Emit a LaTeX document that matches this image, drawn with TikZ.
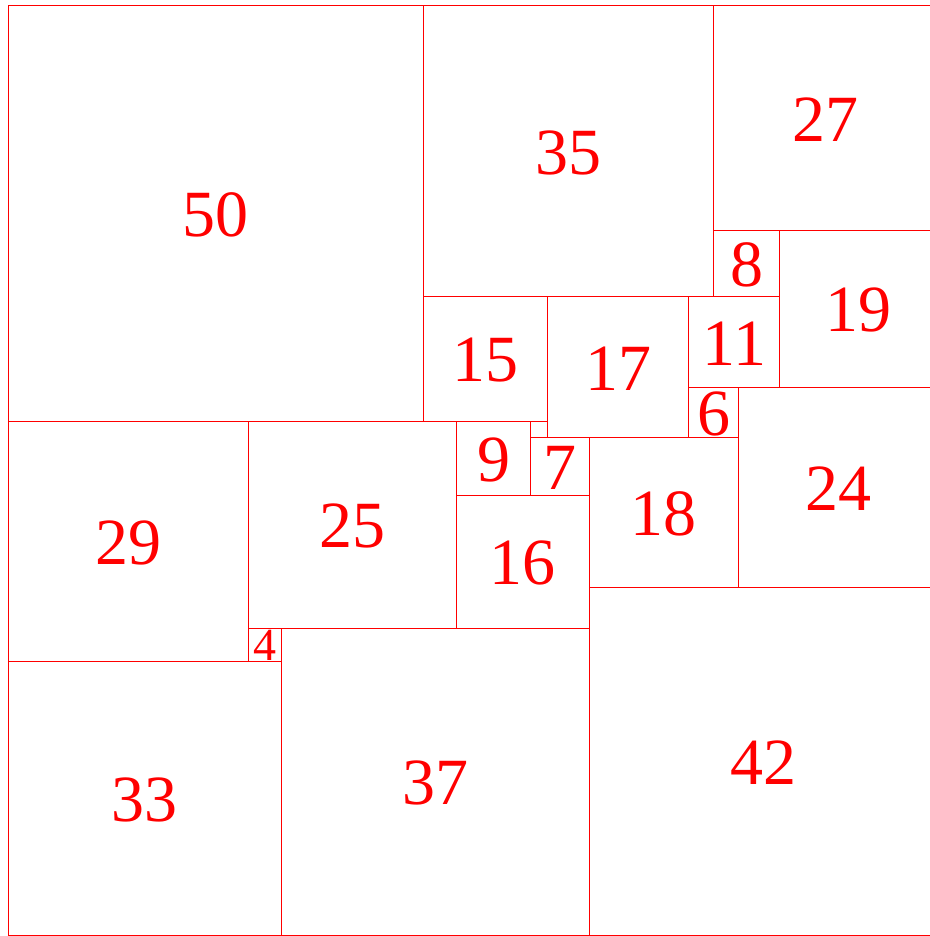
\documentclass[tikz,border=0pt]{standalone}
\usepackage{fontspec}
\setmainfont{Liberation Serif}
\begin{document}
\begin{tikzpicture}[x=4.15pt,y=-4.15pt,
    sq/.style={draw=red,line width=0.5pt},
    num/.style={text=red,inner sep=0pt,font=\fontsize{33}{33}\selectfont}]
  \useasboundingbox (-0.964,-0.723) rectangle (111.084,112.048);

  % SQUARES (x/y of the top left corner, side)
  \foreach \x/\y/\s in {0/0/50, 50/0/35, 85/0/27, 85/27/8, 93/27/19,
                        50/35/15, 65/35/17, 82/35/11, 82/46/6, 88/46/24,
                        0/50/29, 29/50/25, 54/50/9, 63/52/7, 70/52/18,
                        54/59/16, 0/79/33, 33/75/37, 70/70/42}
  {
    \draw[sq] (\x,\y) rectangle +(\s,\s);
    \node[num] (q\s) at ({\x+\s/2},{\y+\s/2+0.15}) {\s};
  }

  % the two small ones
  \draw[sq] (29,75) rectangle +(4,4);
  \node[num,font=\fontsize{23}{23}\selectfont] (q4) at (31,77) {4};
  \draw[sq] (63,50) rectangle +(2,2);  % no label
\end{tikzpicture}
\end{document}
